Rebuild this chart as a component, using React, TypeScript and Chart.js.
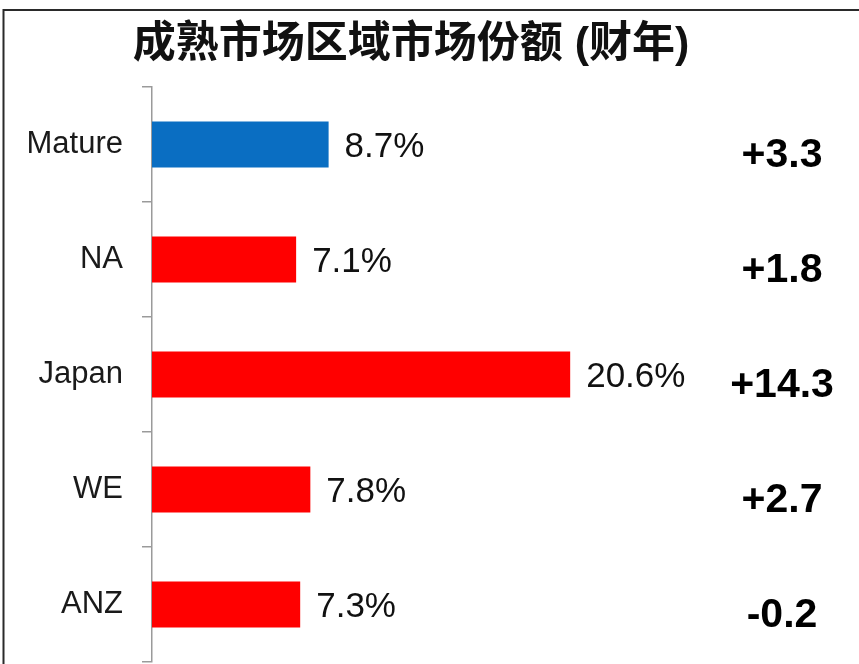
import React, { useEffect, useRef } from "react";
import { Chart, registerables } from "chart.js";

Chart.register(...registerables);

const title = "成熟市场区域市场份额 (财年)";
const categories = ["Mature", "NA", "Japan", "WE", "ANZ"];
const shares = [8.7, 7.1, 20.6, 7.8, 7.3];
const changes = ["+3.3", "+1.8", "+14.3", "+2.7", "-0.2"];

const LATIN = '"Liberation Sans", Arial, "Noto Sans CJK SC", sans-serif';

const overlayPlugin = {
  id: "overlay",
  beforeDraw(chart: any) {
    const ctx = chart.ctx;
    ctx.save();
    ctx.fillStyle = "#ffffff";
    ctx.fillRect(0, 0, chart.width, chart.height);
    ctx.strokeStyle = "#2a2a2a";
    ctx.lineWidth = 2;
    ctx.beginPath();
    ctx.moveTo(3.5, chart.height);
    ctx.lineTo(3.5, 10);
    ctx.lineTo(chart.width, 10);
    ctx.stroke();
    ctx.restore();
  },
  afterDraw(chart: any) {
    const ctx = chart.ctx;
    const meta = chart.getDatasetMeta(0);
    const xs = chart.scales.x;
    ctx.save();
    // title
    ctx.fillStyle = "#111111";
    ctx.font = `bold 43px ${LATIN}`;
    ctx.textAlign = "center";
    ctx.textBaseline = "middle";
    ctx.fillText(title, 411, 45);
    // value labels
    ctx.textAlign = "left";
    ctx.textBaseline = "alphabetic";
    meta.data.forEach((bar: any, i: number) => {
      const v = shares[i];
      const x = xs.getPixelForValue(v) + 16;
      ctx.font = `35px ${LATIN}`;
      ctx.fillStyle = "#111111";
      ctx.fillText(`${v.toFixed(1)}%`, x, bar.y + 12.5);
    });
    // change labels
    ctx.textAlign = "center";
    meta.data.forEach((bar: any, i: number) => {
      ctx.font = `bold 41px ${LATIN}`;
      ctx.fillStyle = "#000000";
      ctx.fillText(changes[i], 782, bar.y + 22);
    });
    ctx.restore();
  },
};

export default function App() {
  const ref = useRef<HTMLCanvasElement | null>(null);
  useEffect(() => {
    if (!ref.current) return;
    const chart = new Chart(ref.current, {
      type: "bar",
      data: {
        labels: categories,
        datasets: [
          {
            data: shares,
            backgroundColor: (c: any) => (c.dataIndex === 0 ? "#0A6EC2" : "#FF0000"),
            barPercentage: 0.4,
            categoryPercentage: 1,
          },
        ],
      },
      options: {
        indexAxis: "y",
        animation: false,
        responsive: true,
        maintainAspectRatio: false,
        layout: { padding: { left: 0, top: 87, right: 98, bottom: 2 } },
        plugins: {
          legend: { display: false },
          tooltip: { enabled: false },
          title: { display: false },
        },
        scales: {
          x: { display: false, min: 0, max: 30 },
          y: {
            afterFit: (s: any) => {
              s.width = 152;
              s.paddingTop = 0;
              s.paddingBottom = 0;
            },
            grid: {
              drawOnChartArea: false,
              drawTicks: true,
              tickLength: 10,
              color: "#9a9a9a",
              lineWidth: 1.5,
            },
            border: { display: true, color: "#9a9a9a", width: 1.5 },
            ticks: {
              padding: 19,
              color: "#1a1a1a",
              font: { family: LATIN, size: 31 },
            },
          },
        },
      },
      plugins: [overlayPlugin],
    } as any);
    return () => chart.destroy();
  }, []);
  return (
    <div style={{ position: "absolute", left: 0, top: 0, width: 859, height: 664, background: "#fff" }}>
      <canvas ref={ref} />
    </div>
  );
}
